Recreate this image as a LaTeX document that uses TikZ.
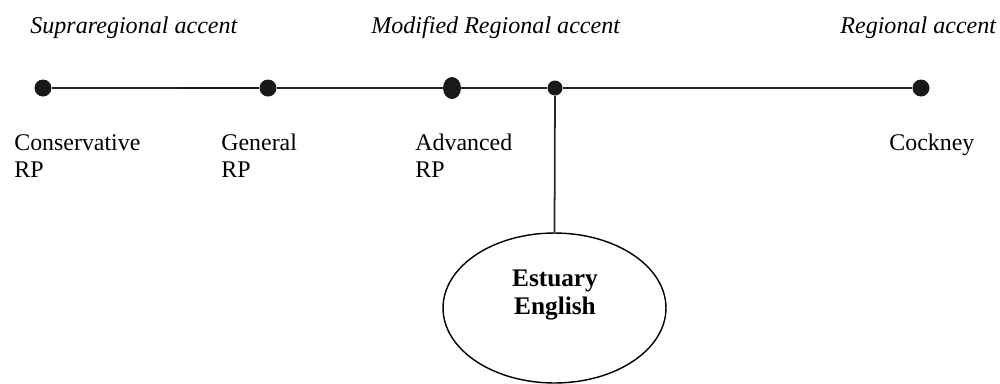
\documentclass[tikz,border=0pt]{standalone}
\usepackage{fontspec}
\setmainfont{Liberation Serif}
\usepackage{tikz}
\usetikzlibrary{shapes.geometric}
\tikzset{
 dot/.style={circle,fill=black!90,inner sep=0pt,minimum size=0.34cm},
 place/.style={anchor=base west,align=left,inner sep=0pt,font=\fontsize{13.6}{15.3}\selectfont},
 accent/.style={anchor=base west,inner sep=0pt,font=\fontsize{13.7}{16}\selectfont\itshape}
}

\begin{document}
\begin{tikzpicture}[x=0.02cm,y=-0.02cm]
\useasboundingbox (0,0) rectangle (1000,383);
% the three accent types
\node[accent] (supra) at (30,33) {Supraregional accent};
\node[accent] (modified) at (371,33) {Modified Regional accent};
\node[accent] (regional) at (840,33) {Regional accent};
% points on the scale
\node[dot] (cons) at (43,88) {};
\node[dot] (gen) at (268,88) {};
\node[ellipse,fill=black!90,inner sep=0pt,minimum width=0.36cm,minimum height=0.44cm] (adv) at (452,88) {};
\node[dot,minimum size=0.3cm] (est) at (555,88) {};
\node[dot] (cock) at (921,88) {};
\draw[line width=1pt,black!85] (cons)--(gen)--(adv)--(est)--(cock);
\draw[line width=1.3pt,black!90] (178,88)--(gen);
\node[place] (conslab) at (14,177) {Conservative\\RP};
\node[place] (genlab) at (221,177) {General\\RP};
\node[place] (advlab) at (415,177) {Advanced\\RP};
\node[place] (cocklab) at (889,150) {Cockney};
% Estuary English
\node[ellipse,draw,line width=0.8pt,minimum width=4.46cm,minimum height=3cm] (estuary) at (554.5,308) {};
\node[align=center,inner sep=0pt,font=\fontsize{14.4}{16}\selectfont\bfseries] (estuarytext) at (555,295) {Estuary\\English};
\draw[line width=1pt,black!85] (est)--(estuary.north);
\end{tikzpicture}
\end{document}
